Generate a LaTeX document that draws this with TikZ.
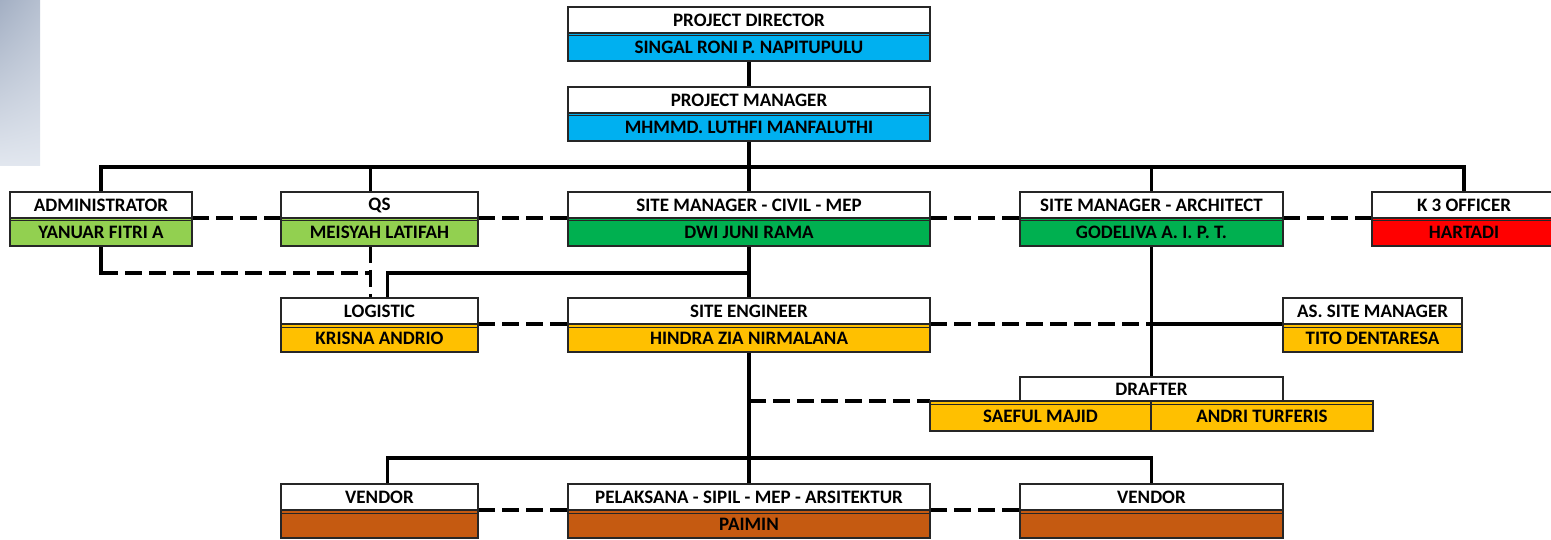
\documentclass[tikz,border=0pt]{standalone}
\usepackage{fontspec}
\setmainfont{Carlito}
\usepackage{tikz}
\usetikzlibrary{positioning,backgrounds,shadings}
\definecolor{bossblue}{HTML}{00B0F0}
\definecolor{officegreen}{HTML}{92D050}
\definecolor{sitegreen}{HTML}{00B050}
\definecolor{safetyred}{HTML}{FF0000}
\definecolor{fieldgold}{HTML}{FFC000}
\definecolor{crewbrown}{HTML}{C55A11}
\definecolor{edgegrey}{HTML}{262626}
\definecolor{slatedark}{HTML}{A3AFC3}
\definecolor{slatelight}{HTML}{E2E7EF}
\tikzset{
  headbox/.style={draw=edgegrey, line width=1.2pt, fill=white, minimum height=26pt,
                  inner sep=0pt, outer sep=0pt, font=\fontsize{19}{21}\selectfont\bfseries},
  namebox/.style={draw=edgegrey, line width=1.2pt, fill=#1, minimum height=28pt,
                  inner sep=0pt, outer sep=0pt, font=\fontsize{19}{21}\selectfont\bfseries},
  conn/.style={line width=3.4pt, draw=black, line cap=rect},
  dashconn/.style={line width=3.4pt, draw=black, dash pattern=on 17pt off 7pt},
}
% one post: id, left, right, top, colour, title, person
\newcommand{\post}[7]{%
  \node[headbox, anchor=north, minimum width={#3-#2}] (#1h) at ({(#2+#3)/2},#4) {#6};
  \node[namebox=#5, minimum width={#3-#2}, below=0pt of #1h] (#1n) {#7};
  \draw[draw=edgegrey, line width=1pt] ([yshift=-3pt]#1n.north west) -- ([yshift=-3pt]#1n.north east);}

\begin{document}
\begin{tikzpicture}[x=1pt, y=-1pt]
\useasboundingbox (0,0) rectangle (1551,540);
\clip (0,0) rectangle (1551,540);
\shade[upper left=slatedark, upper right=slatedark!70!slatelight,
       lower left=slatelight, lower right=slatelight] (0,0) rectangle (40,166);

% ---------- posts ---------------------------------------------------------
\post{pd}{568}{930}{7}{bossblue}{PROJECT DIRECTOR}{SINGAL RONI P. NAPITUPULU}
\post{pm}{568}{930}{87}{bossblue}{PROJECT MANAGER}{MHMMD. LUTHFI MANFALUTHI}
\post{ad}{10}{192}{192}{officegreen}{ADMINISTRATOR}{YANUAR FITRI A}
\post{qs}{281}{478}{192}{officegreen}{QS}{MEISYAH LATIFAH}
\post{smc}{568}{930}{192}{sitegreen}{SITE MANAGER - CIVIL - MEP}{DWI JUNI RAMA}
\post{sma}{1020}{1283}{192}{sitegreen}{SITE MANAGER - ARCHITECT}{GODELIVA A. I. P. T.}
\post{k3}{1372}{1556}{192}{safetyred}{K 3 OFFICER}{HARTADI}
\post{log}{281}{478}{298}{fieldgold}{LOGISTIC}{KRISNA ANDRIO}
\post{se}{568}{930}{298}{fieldgold}{SITE ENGINEER}{HINDRA ZIA NIRMALANA}
\post{asm}{1283}{1462}{298}{fieldgold}{AS. SITE MANAGER}{TITO DENTARESA}
\post{vna}{281}{478}{484}{crewbrown}{VENDOR}{}
\post{pel}{568}{930}{484}{crewbrown}{PELAKSANA - SIPIL - MEP - ARSITEKTUR}{PAIMIN}
\post{vnb}{1020}{1283}{484}{crewbrown}{VENDOR}{}

% drafter: one title, two people
\node[headbox, anchor=north, minimum width=263pt, minimum height=24pt] (dfh) at (1151.5,377) {DRAFTER};
\node[namebox=fieldgold, anchor=north west, minimum width=221pt, minimum height=30pt] (dfa) at (930,401) {SAEFUL MAJID};
\node[namebox=fieldgold, anchor=north west, minimum width=222pt, minimum height=30pt] (dfb) at (dfa.north east) {ANDRI TURFERIS};
\draw[draw=edgegrey, line width=1pt] ([yshift=-3pt]dfa.north west) -- ([yshift=-3pt]dfb.north east);

% ---------- lines of command ----------------------------------------------
\begin{scope}[on background layer]
\coordinate (topbus) at (749,167);
\coordinate (midbus) at (749,273);
\coordinate (botbus) at (749,458);
\draw[conn] (pdn) -- (pmh);
\draw[conn] (pmn) -- (smch);
\draw[conn] (adh.north) |- (topbus) -| (k3h.north);
\draw[conn] ([xshift=-9pt]qsh.north) -- ([xshift=-9pt]qsh.north |- topbus);
\draw[conn] (smah) -- (smah |- topbus);
\foreach \a/\b in {ad/qs, qs/smc, smc/sma, sma/k3}
  \draw[dashconn] (\a n.north east) -- (\b n.north west);

\draw[conn] (adn) -- (adn |- midbus);
\draw[dashconn] (adn |- midbus) -- ([xshift=-9pt]qsn.south |- midbus);
\draw[dashconn] ([xshift=-9pt]qsn.south) -- ([xshift=-9pt]logh.north);
\draw[conn] (smcn) -- (seh);
\draw[conn] (midbus) -| ([xshift=8pt]logh.north);

\coordinate (asmjoin) at (sen.north east -| sman.south);
\draw[dashconn] (logn.north east) -- (sen.north west);
\draw[dashconn] (sen.north east) -- (asmjoin);
\draw[conn] (asmjoin) -- (asmn.north west);
\draw[conn] (sman) -- (dfh);
\draw[dashconn] (sen.south |- dfa.north west) -- (dfa.north west);

\draw[conn] (sen) -- (pelh);
\draw[conn] ([xshift=8pt]vnah.north) |- (botbus) -| (vnbh.north);
\draw[dashconn] (vnan.north east) -- (peln.north west);
\draw[dashconn] (peln.north east) -- (vnbn.north west);
\end{scope}
\end{tikzpicture}
\end{document}
